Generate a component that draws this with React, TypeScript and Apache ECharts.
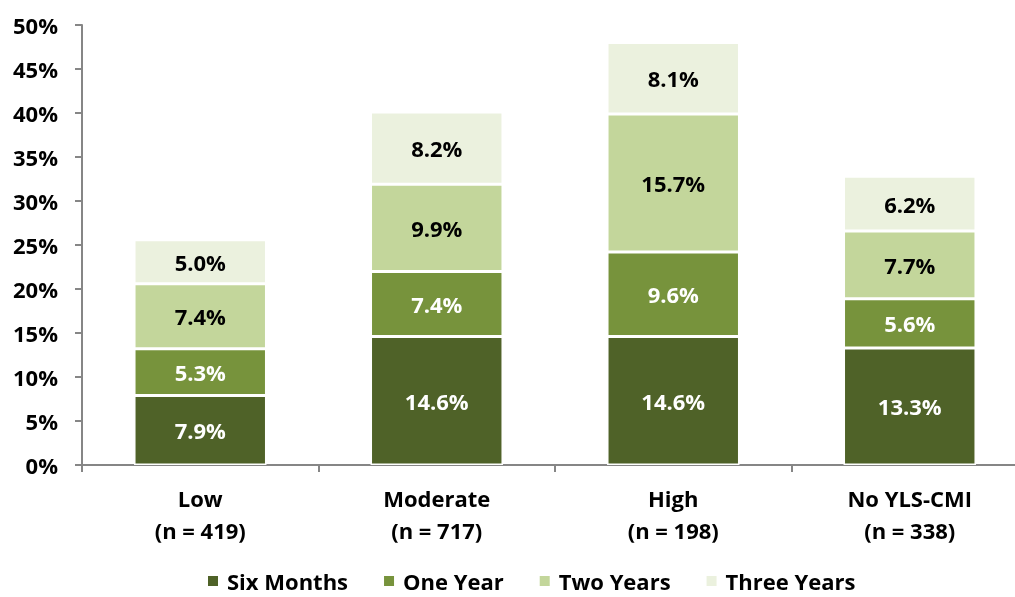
import React, { useEffect, useRef } from "react";
import * as echarts from "echarts";

const categories = ["Low\n(n = 419)", "Moderate\n(n = 717)", "High\n(n = 198)", "No YLS-CMI\n(n = 338)"];
const seriesNames = ["Six Months", "One Year", "Two Years", "Three Years"];
const sixMonths = [7.9, 14.6, 14.6, 13.3];
const oneYear = [5.3, 7.4, 9.6, 5.6];
const twoYears = [7.4, 9.9, 15.7, 7.7];
const threeYears = [5.0, 8.2, 8.1, 6.2];
const colors = ["#4f6228", "#77933c", "#c3d69b", "#ebf1de"];
const labelColors = ["#ffffff", "#ffffff", "#000000", "#000000"];

const FONT = "'Open Sans', 'Liberation Sans', sans-serif";
const FS = 22;

export default function App() {
  const ref = useRef<HTMLDivElement>(null);
  useEffect(() => {
    if (!ref.current) return;
    const chart = echarts.init(ref.current, null, { renderer: "svg" });
    const data = [sixMonths, oneYear, twoYears, threeYears];
    chart.setOption({
      animation: false,
      textStyle: { fontFamily: FONT },
      grid: { left: 82, top: 25, width: 946, height: 440, containLabel: false, outerBoundsMode: "none" },
      legend: {
        top: 570,
        left: 206,
        padding: 0,
        itemWidth: 12,
        itemHeight: 12,
        itemGap: 34,
        icon: "rect",
        textStyle: {
          fontFamily: FONT,
          fontWeight: "bold",
          fontSize: FS,
          lineHeight: 22,
          color: "#000",
          padding: [0, 0, 0, 3],
        },
        data: seriesNames,
      },
      xAxis: {
        type: "category",
        data: categories,
        axisLine: { lineStyle: { color: "#868686", width: 2 } },
        axisTick: { show: true, length: 7, lineStyle: { color: "#868686", width: 2 } },
        axisLabel: {
          fontFamily: FONT,
          fontWeight: "bold",
          fontSize: FS,
          color: "#000",
          lineHeight: 32,
          margin: 17,
          interval: 0,
        },
      },
      yAxis: {
        type: "value",
        min: 0,
        max: 50,
        interval: 5,
        splitLine: { show: false },
        axisLine: { show: true, lineStyle: { color: "#868686", width: 2 } },
        axisTick: { show: true, length: 7, lineStyle: { color: "#868686", width: 2 } },
        axisLabel: {
          formatter: "{value}%",
          fontFamily: FONT,
          fontWeight: "bold",
          fontSize: FS,
          color: "#000",
          margin: 24,
        },
      },
      series: seriesNames.map((name, i) => ({
        name,
        type: "bar",
        stack: "total",
        barWidth: "56%",
        data: data[i],
        itemStyle: { color: colors[i], borderColor: "#ffffff", borderWidth: 1.5 },
        label: {
          show: true,
          position: "inside",
          formatter: (p: any) => p.value.toFixed(1) + "%",
          fontFamily: FONT,
          fontWeight: "bold",
          fontSize: FS,
          color: labelColors[i],
        },
      })),
    });
    return () => chart.dispose();
  }, []);
  return <div ref={ref} style={{ position: "fixed", left: 0, top: 0, width: 1015, height: 597 }} />;
}
